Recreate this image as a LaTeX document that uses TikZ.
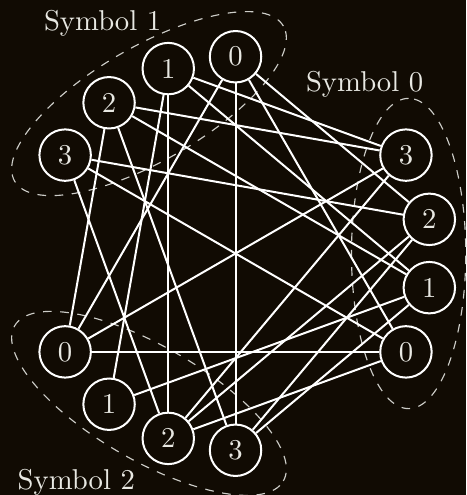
\documentclass[tikz,border=0pt]{standalone}
\definecolor{bgdark}{RGB}{17,11,3}
\definecolor{dashgray}{RGB}{205,205,200}
\definecolor{txtgray}{RGB}{232,232,226}

\begin{document}
\begin{tikzpicture}[line width=0.7pt,
sym/.style={draw=white, circle, minimum size=6.3mm, inner sep=0pt, text=txtgray, fill=bgdark},
grp/.style={draw=dashgray, dashed, line width=0.4pt},
lbl/.style={text=txtgray, inner sep=0pt, anchor=base west},
edge/.style={draw=white}]
\fill[bgdark] (-2.885,-2.958) rectangle (2.824,3.105);
\useasboundingbox (-2.885,-2.958) rectangle (2.824,3.105);
% dashed groups
\draw[grp, shift={(0:2.12)}, rotate=90] (0,0) ellipse (1.90 and 0.70);
\draw[grp, shift={(120:2.12)}, rotate=30] (0,0) ellipse (1.90 and 0.70);
\draw[grp, shift={(240:2.12)}, rotate=-30] (0,0) ellipse (1.90 and 0.70);
\node[lbl] (l0) at (0.851,1.982) {Symbol 0};
\node[lbl] (l1) at (-2.358,2.732) {Symbol 1};
\node[lbl] (l2) at (-2.680,-2.889) {Symbol 2};
% symbol 0
\node[sym] (a0) at (-30:2.41) {0};
\node[sym] (a1) at (-10:2.41) {1};
\node[sym] (a2) at (10:2.41) {2};
\node[sym] (a3) at (30:2.41) {3};
% symbol 1
\node[sym] (b0) at (90:2.41) {0};
\node[sym] (b1) at (110:2.41) {1};
\node[sym] (b2) at (130:2.41) {2};
\node[sym] (b3) at (150:2.41) {3};
% symbol 2
\node[sym] (c0) at (210:2.41) {0};
\node[sym] (c1) at (230:2.41) {1};
\node[sym] (c2) at (250:2.41) {2};
\node[sym] (c3) at (270:2.41) {3};
\draw[edge] (b0)--(c0); \draw[edge] (b0)--(c3); \draw[edge] (b0)--(a2); \draw[edge] (b0)--(a0);
\draw[edge] (b1)--(c1); \draw[edge] (b1)--(c2); \draw[edge] (b1)--(a3); \draw[edge] (b1)--(a1);
\draw[edge] (b2)--(c0); \draw[edge] (b2)--(c3); \draw[edge] (b2)--(a3); \draw[edge] (b2)--(a1);
\draw[edge] (b3)--(c2); \draw[edge] (b3)--(a2); \draw[edge] (b3)--(a0);
\draw[edge] (a3)--(c0); \draw[edge] (a3)--(c2); \draw[edge] (a2)--(c2); \draw[edge] (a2)--(c3);
\draw[edge] (a1)--(c1); \draw[edge] (a1)--(c3); \draw[edge] (a0)--(c0); \draw[edge] (a0)--(c2);
\end{tikzpicture}
\end{document}
